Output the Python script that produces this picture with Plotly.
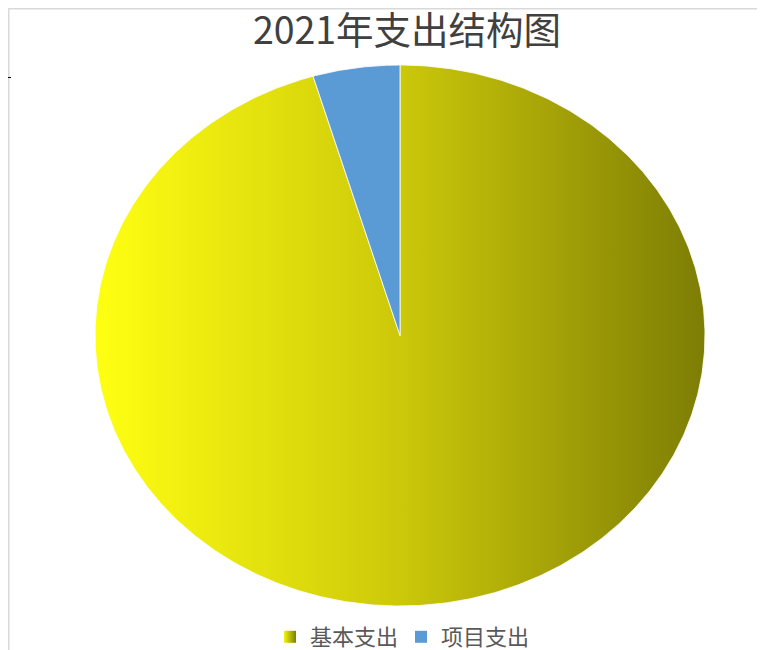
import numpy as np
import plotly.graph_objects as go

# ---- data ----
categories = ["基本支出", "项目支出"]
values = [95.4, 4.6]
title_text = "2021年支出结构图"

# ---- style ----
grad_scale = [[0.0, "#FFFF12"], [0.5, "#CCC80A"], [1.0, "#7D7D05"]]
blue = "#5B9BD5"

# page has an 8px body margin -> work in page pixels, convert to figure pixels
OFF = 8
W, H = 765 - OFF, 650 - OFF
PL, PR, PT, PB = 95, 705, 65, 606          # pie ellipse bounds (page px)
L, R, T, B = PL - OFF, W - (PR - OFF), PT - OFF, H - (PB - OFF)
pw, ph = W - L - R, H - T - B


def px(x):
    return (x - OFF - L) / pw


def py(y):
    return (H - B - (y - OFF)) / ph


fig = go.Figure()

total = sum(values)
start = 0.0
for i, (cat, v) in enumerate(zip(categories, values)):
    a0 = start
    a1 = start + v / total * 2 * np.pi
    start = a1
    th = np.linspace(a0, a1, max(int((a1 - a0) / (2 * np.pi) * 720), 8))
    xs = np.concatenate([[0.0], np.sin(th), [0.0]])
    ys = np.concatenate([[0.0], np.cos(th), [0.0]])
    kw = dict(x=xs, y=ys, mode="lines", fill="toself",
              line=dict(color="rgba(255,255,255,0.8)", width=1),
              showlegend=False, hoverinfo="text", text=cat, name=cat)
    if i == 0:
        kw["fillgradient"] = dict(type="horizontal", colorscale=grad_scale)
    else:
        kw["fillcolor"] = blue
    fig.add_trace(go.Scatter(**kw))

# legend entries
fig.add_trace(go.Scatter(x=[None], y=[None], mode="markers", name=categories[0],
                         marker=dict(symbol="square", size=10, color="#F5F510",
                                     gradient=dict(type="horizontal", color="#7D7D05"))))
fig.add_trace(go.Scatter(x=[None], y=[None], mode="markers", name=categories[1],
                         marker=dict(symbol="square", size=10, color=blue)))

# frame lines (light gray)
fig.add_shape(type="line", xref="paper", yref="paper", x0=px(8), x1=px(765), y0=py(8.75), y1=py(8.75),
              line=dict(color="#D9D9D9", width=1.5))
fig.add_shape(type="line", xref="paper", yref="paper", x0=px(8.75), x1=px(8.75), y0=py(8), y1=py(650),
              line=dict(color="#D9D9D9", width=1.5))
fig.add_shape(type="line", xref="paper", yref="paper", x0=px(8), x1=px(11), y0=py(77.5), y1=py(77.5),
              line=dict(color="#000000", width=1))

fig.update_layout(
    width=W, height=H,
    margin=dict(l=L, r=R, t=T, b=B, autoexpand=False),
    paper_bgcolor="white", plot_bgcolor="white",
    title=dict(text=title_text, xref="container", x=(407 - OFF) / W, xanchor="center",
               yref="container", y=1 - (31 - OFF) / H, yanchor="middle",
               font=dict(family="Noto Sans CJK SC", size=37.5, color="#404040")),
    xaxis=dict(range=[-1.0, 1.0], visible=False, fixedrange=True),
    yaxis=dict(range=[-1.0, 1.0], visible=False, fixedrange=True),
    legend=dict(orientation="h", x=px(401), xanchor="center", y=py(637), yanchor="middle",
                font=dict(family="Noto Sans CJK SC", size=22, color="#595959"),
                itemsizing="constant", itemwidth=30, entrywidth=86, tracegroupgap=0),
    showlegend=True,
)

fig.write_html("out.html")
